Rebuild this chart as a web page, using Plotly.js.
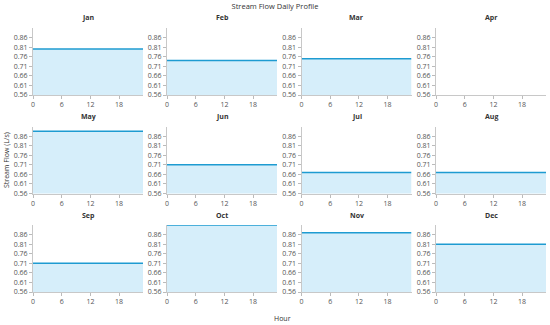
<!DOCTYPE html>
<html>
<head>
<meta charset="utf-8">
<script src="https://cdn.plot.ly/plotly-3.0.1.min.js"></script>
<style>html,body{margin:0;padding:0;background:#fff;}#chart{width:550px;height:325px;}</style>
</head>
<body>
<div id="chart"></div>
<script>
var months = ["Jan","Feb","Mar","Apr","May","Jun","Jul","Aug","Sep","Oct","Nov","Dec"];
var hours = [0,1,2,3,4,5,6,7,8,9,10,11,12,13,14,15,16,17,18,19,20,21,22,23];
// Mean stream flow per month (L/s); April has no data
var monthlyFlow = [0.80, 0.74, 0.75, null, 0.885, 0.71, 0.67, 0.67, 0.71, 0.91, 0.87, 0.81];
var yTicks = [0.56, 0.61, 0.66, 0.71, 0.76, 0.81, 0.86];
var xTicks = [0, 6, 12, 18];

var W = 550, H = 325;
var colLeft = [33, 167, 301.5, 436];
var colWidth = 110;
var rowTop = [28, 126.5, 225];
var rowBottom = [95, 193.5, 292];

var data = [];
var layout = {
  width: W, height: H,
  margin: {l:0, r:0, t:0, b:0},
  paper_bgcolor: '#fff', plot_bgcolor: '#fff',
  showlegend: false,
  font: {family: 'Open Sans, sans-serif', size: 7, color: '#555'},
  title: {text: 'Stream Flow Daily Profile', x: 0.5, xanchor: 'center', y: 1 - 6/H, yanchor: 'middle',
          font: {size: 7.5, color: '#333'}},
  annotations: []
};

for (var i = 0; i < 12; i++) {
  var r = Math.floor(i / 4), c = i % 4;
  var sfx = i === 0 ? '' : String(i + 1);
  var v = monthlyFlow[i];
  var ys = hours.map(function(){ return v; });
  data.push({
    type: 'scatter', mode: 'lines',
    x: hours, y: ys,
    xaxis: 'x' + sfx, yaxis: 'y' + sfx,
    line: {color: '#1e9bd1', width: 1.5},
    fill: 'tozeroy', fillcolor: 'rgba(214,238,250,1)',
    hoverinfo: 'skip'
  });
  var xd = [colLeft[c] / W, (colLeft[c] + colWidth) / W];
  var yd = [1 - rowBottom[r] / H, 1 - rowTop[r] / H];
  layout['xaxis' + sfx] = {
    domain: xd, anchor: 'y' + sfx, range: [0, 23],
    tickvals: xTicks, ticks: 'outside', ticklen: 3, tickcolor: '#bbb',
    showline: true, linecolor: '#c8c8c8', linewidth: 1,
    showgrid: false, zeroline: false, fixedrange: true,
    tickfont: {size: 7, color: '#555'}
  };
  layout['yaxis' + sfx] = {
    domain: yd, anchor: 'x' + sfx, range: [0.56, 0.91],
    tickvals: yTicks, tickformat: '.2f', ticks: 'outside', ticklen: 3, tickcolor: '#bbb',
    showline: true, linecolor: '#c8c8c8', linewidth: 1,
    showgrid: false, zeroline: false, fixedrange: true,
    tickfont: {size: 7, color: '#555'}
  };
  layout.annotations.push({
    text: '<b>' + months[i] + '</b>', xref: 'paper', yref: 'paper',
    x: (colLeft[c] + colWidth / 2) / W, y: 1 - (rowTop[r] - 10) / H,
    xanchor: 'center', yanchor: 'middle', showarrow: false,
    font: {size: 7, color: '#333'}
  });
}
layout.annotations.push({
  text: 'Stream Flow (L/s)', xref: 'paper', yref: 'paper',
  x: 6 / W, y: 1 - 160 / H, xanchor: 'center', yanchor: 'middle',
  textangle: -90, showarrow: false, font: {size: 7, color: '#333'}
});
layout.annotations.push({
  text: 'Hour', xref: 'paper', yref: 'paper',
  x: 282 / W, y: 1 - 318 / H, xanchor: 'center', yanchor: 'middle',
  showarrow: false, font: {size: 7, color: '#333'}
});

Plotly.newPlot('chart', data, layout, {displayModeBar: false, staticPlot: true});
</script>
</body>
</html>
